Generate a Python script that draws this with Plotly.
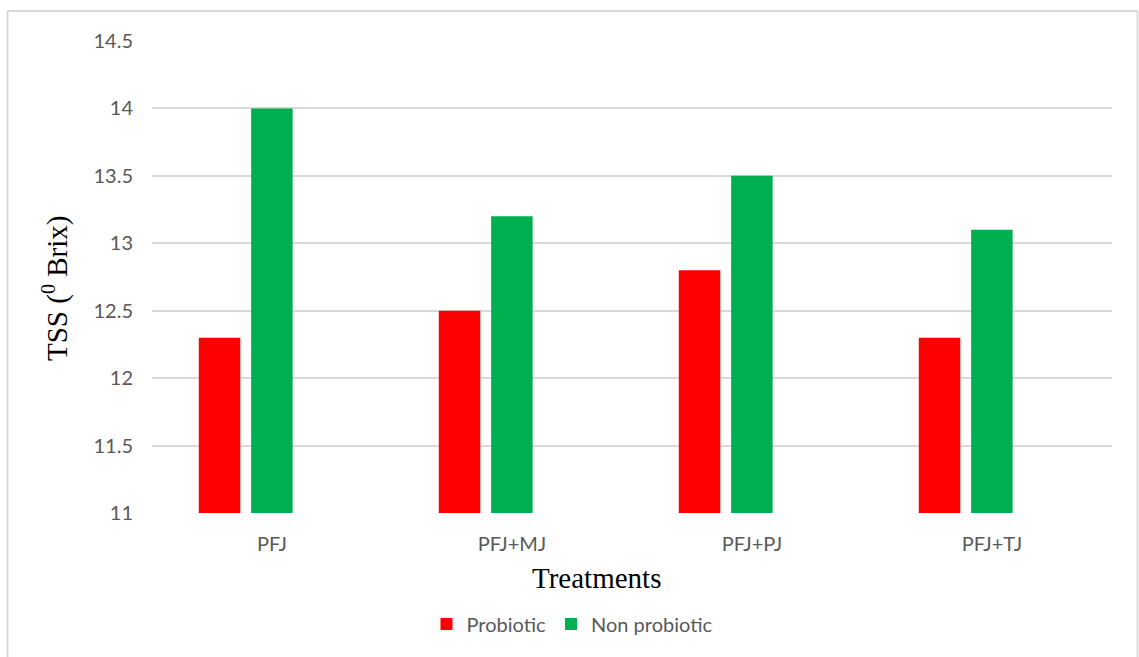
import plotly.graph_objects as go

# Chart data
treatments = ["PFJ", "PFJ+MJ", "PFJ+PJ", "PFJ+TJ"]
probiotic = [12.3, 12.5, 12.8, 12.3]
non_probiotic = [14.0, 13.2, 13.5, 13.1]
y_ticks = [11, 11.5, 12, 12.5, 13, 13.5, 14, 14.5]
y_tick_labels = ["11", "11.5", "12", "12.5", "13", "13.5", "14", "14.5"]

W, H = 1139, 657
ML, MR, MT, MB = 152, 27, 41, 144
PW, PH = W - ML - MR, H - MT - MB


def px_x(px):
    return (px - ML) / PW


def px_y(py):
    return (H - MB - py) / PH


GRAY_TXT = "#595959"
GRID = "#D9D9D9"
TICK_FONT = dict(family="Lato, Carlito, Calibri, sans-serif", size=20, color=GRAY_TXT)
SERIF = dict(family="Liberation Serif, Times New Roman, serif", size=29, color="#000000")

bar_w = 0.173

fig = go.Figure()
fig.add_trace(go.Bar(
    x=treatments, y=probiotic, name="Probiotic",
    marker=dict(color="#FF0000", line=dict(width=0)),
    width=bar_w, offset=-0.305,
))
fig.add_trace(go.Bar(
    x=treatments, y=non_probiotic, name="Non probiotic",
    marker=dict(color="#00B050", line=dict(width=0)),
    width=bar_w, offset=-0.087,
))

fig.update_layout(
    width=W, height=H,
    margin=dict(l=ML, r=MR, t=MT, b=MB),
    paper_bgcolor="white", plot_bgcolor="white",
    font=TICK_FONT,
    showlegend=True,
    legend=dict(
        orientation="h", x=px_x(572), xanchor="center",
        y=px_y(624), yanchor="middle",
        font=TICK_FONT, bgcolor="rgba(0,0,0,0)",
        itemwidth=30, traceorder="normal",
    ),
    xaxis=dict(
        type="category", range=[-0.5, 3.5],
        showgrid=False, zeroline=False, showline=False, ticks="",
        tickfont=TICK_FONT, ticklabelstandoff=17,
    ),
    yaxis=dict(
        range=[11, 14.5], tickvals=y_ticks, ticktext=y_tick_labels,
        showgrid=True, gridcolor=GRID, gridwidth=1.5,
        zeroline=False, showline=False, ticks="",
        tickfont=TICK_FONT, ticklabelstandoff=18,
    ),
    annotations=[
        dict(text="Treatments", xref="paper", yref="paper",
             x=px_x(596), y=px_y(578), xanchor="center", yanchor="middle",
             showarrow=False, font=SERIF),
        dict(text="TSS (<sup>0</sup> Brix)", xref="paper", yref="paper",
             x=px_x(55), y=px_y(288), xanchor="center", yanchor="middle",
             textangle=-90, showarrow=False, font=SERIF),
    ],
    shapes=[
        dict(type="line", xref="paper", yref="paper", layer="below",
             x0=px_x(7.5), x1=px_x(7.5), y0=px_y(11), y1=px_y(670),
             line=dict(color=GRID, width=2)),
        dict(type="line", xref="paper", yref="paper", layer="below",
             x0=px_x(7.5), x1=px_x(1137.5), y0=px_y(11), y1=px_y(11),
             line=dict(color=GRID, width=2)),
        dict(type="line", xref="paper", yref="paper", layer="below",
             x0=px_x(1137.5), x1=px_x(1137.5), y0=px_y(11), y1=px_y(670),
             line=dict(color=GRID, width=2)),
    ],
)

fig.write_html("out.html")
